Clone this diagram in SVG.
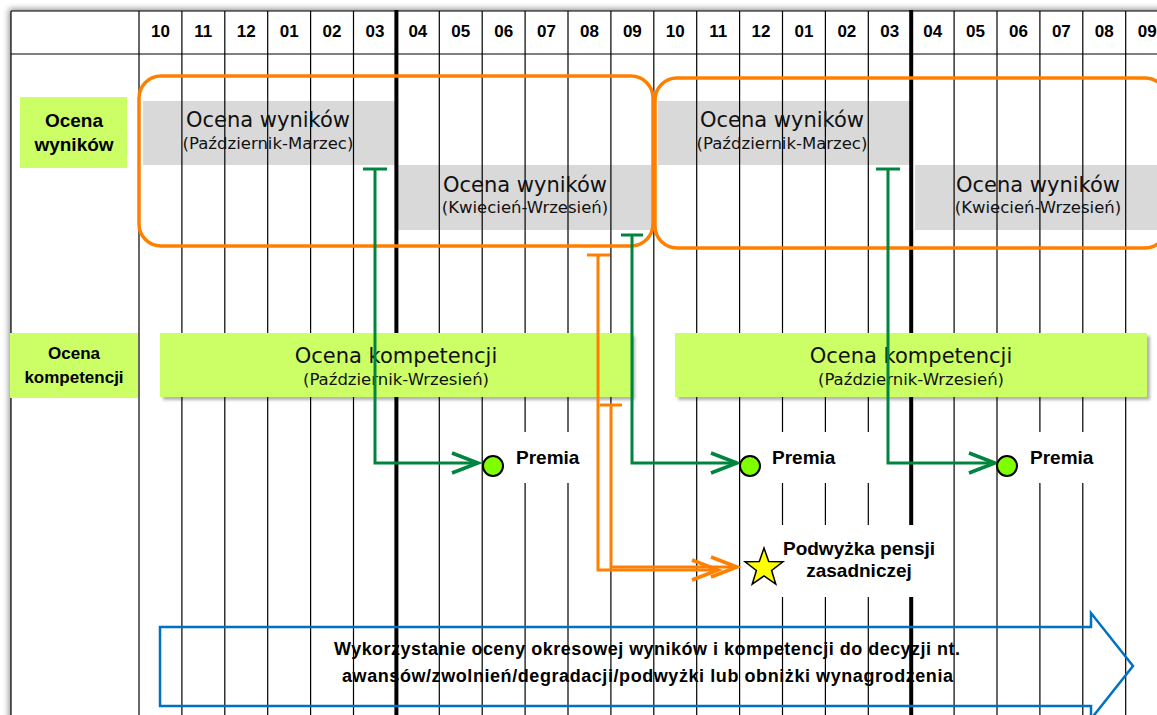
<svg xmlns="http://www.w3.org/2000/svg" width="1157" height="715" viewBox="0 0 1157 715">
<defs>
<style>
.grid{stroke:#000;stroke-width:1.2}
.thick{stroke:#000;stroke-width:4}
.hdr{font:bold 17px "Liberation Sans",Arial,sans-serif;text-anchor:middle;fill:#000}
.bar{fill:#D9D9D9}
.t1{font:21px "DejaVu Sans",Verdana,sans-serif;text-anchor:middle;fill:#111}
.t2{font:16.5px "DejaVu Sans",Verdana,sans-serif;text-anchor:middle;fill:#111}
.gbox{fill:#CCFF66}
.lbl{font:bold 19px "Liberation Sans",Arial,sans-serif;fill:#000}
.lblc{font:bold 19px "Liberation Sans",Arial,sans-serif;fill:#000;text-anchor:middle}
.lbls{font:bold 17px "Liberation Sans",Arial,sans-serif;fill:#000;text-anchor:middle}
.blu{font:bold 18px "Liberation Sans",Arial,sans-serif;fill:#000}
.org{fill:none;stroke:#FF8000;stroke-width:3.5}
.gc{fill:none;stroke:#00853F;stroke-width:3}
.oc{fill:none;stroke:#FF8000;stroke-width:3}
.dot{fill:#80FF00;stroke:#000;stroke-width:2}
.wb{fill:#fff}
</style>
<filter id="tsh" x="-5%" y="-5%" width="110%" height="110%"><feGaussianBlur stdDeviation="3"/></filter>
<filter id="bs" x="-5%" y="-10%" width="115%" height="130%"><feDropShadow dx="3" dy="3" stdDeviation="1.5" flood-color="#000" flood-opacity="0.3"/></filter>
<marker id="ag" markerUnits="userSpaceOnUse" markerWidth="32" markerHeight="26" refX="27" refY="11" orient="auto" overflow="visible"><path d="M1,1 L27,11 L1,21" fill="none" stroke="#00853F" stroke-width="3.5"/></marker>
<marker id="ao" markerUnits="userSpaceOnUse" markerWidth="32" markerHeight="26" refX="27" refY="11" orient="auto" overflow="visible"><path d="M1,1 L27,11 L1,21" fill="none" stroke="#FF8000" stroke-width="3.5"/></marker>
</defs>
<rect width="1157" height="715" fill="#fff"/>
<rect x="9" y="9" width="1200" height="760" fill="#000" opacity="0.45" filter="url(#tsh)"/>
<rect x="11" y="11" width="1200" height="760" fill="#fff"/>

<g id="bars">
<rect class="bar" x="143" y="101" width="252" height="64"/>
<rect class="bar" x="398" y="165" width="254" height="65"/>
<rect class="bar" x="658" y="101" width="252" height="64"/>
<rect class="bar" x="915" y="165" width="246" height="65"/>
</g>

<g id="grid">
<line class="grid" x1="11" y1="11" x2="1157" y2="11"/>
<line class="grid" x1="11" y1="54" x2="1157" y2="54"/>
<line class="grid" x1="11" y1="11" x2="11" y2="715"/>
<line class="grid" x1="139" y1="11" x2="139" y2="715"/>
<line class="grid" x1="181.9" y1="11" x2="181.9" y2="715"/>
<line class="grid" x1="224.8" y1="11" x2="224.8" y2="715"/>
<line class="grid" x1="267.7" y1="11" x2="267.7" y2="715"/>
<line class="grid" x1="310.6" y1="11" x2="310.6" y2="715"/>
<line class="grid" x1="353.5" y1="11" x2="353.5" y2="715"/>
<line class="thick" x1="396.4" y1="10" x2="396.4" y2="715"/>
<line class="grid" x1="439.3" y1="11" x2="439.3" y2="715"/>
<line class="grid" x1="482.2" y1="11" x2="482.2" y2="715"/>
<line class="grid" x1="525.1" y1="11" x2="525.1" y2="715"/>
<line class="grid" x1="568" y1="11" x2="568" y2="715"/>
<line class="grid" x1="610.9" y1="11" x2="610.9" y2="715"/>
<line class="grid" x1="653.8" y1="11" x2="653.8" y2="715"/>
<line class="grid" x1="696.7" y1="11" x2="696.7" y2="715"/>
<line class="grid" x1="739.6" y1="11" x2="739.6" y2="715"/>
<line class="grid" x1="782.5" y1="11" x2="782.5" y2="715"/>
<line class="grid" x1="825.4" y1="11" x2="825.4" y2="715"/>
<line class="grid" x1="868.3" y1="11" x2="868.3" y2="715"/>
<line class="thick" x1="911.2" y1="10" x2="911.2" y2="715"/>
<line class="grid" x1="954.1" y1="11" x2="954.1" y2="715"/>
<line class="grid" x1="997" y1="11" x2="997" y2="715"/>
<line class="grid" x1="1039.9" y1="11" x2="1039.9" y2="715"/>
<line class="grid" x1="1082.8" y1="11" x2="1082.8" y2="715"/>
<line class="grid" x1="1125.7" y1="11" x2="1125.7" y2="715"/>
</g>

<g id="header">
<text class="hdr" x="160.45" y="37">10</text>
<text class="hdr" x="203.35" y="37">11</text>
<text class="hdr" x="246.25" y="37">12</text>
<text class="hdr" x="289.15" y="37">01</text>
<text class="hdr" x="332.05" y="37">02</text>
<text class="hdr" x="374.95" y="37">03</text>
<text class="hdr" x="417.85" y="37">04</text>
<text class="hdr" x="460.75" y="37">05</text>
<text class="hdr" x="503.65" y="37">06</text>
<text class="hdr" x="546.55" y="37">07</text>
<text class="hdr" x="589.45" y="37">08</text>
<text class="hdr" x="632.35" y="37">09</text>
<text class="hdr" x="675.25" y="37">10</text>
<text class="hdr" x="718.15" y="37">11</text>
<text class="hdr" x="761.05" y="37">12</text>
<text class="hdr" x="803.95" y="37">01</text>
<text class="hdr" x="846.85" y="37">02</text>
<text class="hdr" x="889.75" y="37">03</text>
<text class="hdr" x="932.65" y="37">04</text>
<text class="hdr" x="975.55" y="37">05</text>
<text class="hdr" x="1018.45" y="37">06</text>
<text class="hdr" x="1061.35" y="37">07</text>
<text class="hdr" x="1104.25" y="37">08</text>
<text class="hdr" x="1147.15" y="37">09</text>
</g>

<g id="bar-texts">
<text class="t1" x="268" y="127">Ocena wyników</text>
<text class="t2" x="268" y="149">(Październik-Marzec)</text>
<text class="t1" x="525" y="192">Ocena wyników</text>
<text class="t2" x="525" y="213">(Kwiecień-Wrzesień)</text>
<text class="t1" x="782" y="127">Ocena wyników</text>
<text class="t2" x="782" y="149">(Październik-Marzec)</text>
<text class="t1" x="1038" y="192">Ocena wyników</text>
<text class="t2" x="1038" y="213">(Kwiecień-Wrzesień)</text>
</g>

<g id="period-frames">
<rect class="org" x="139" y="76" width="514" height="170" rx="22"/>
<rect class="org" x="655" y="78" width="512" height="170" rx="22"/>
</g>

<g id="label-ocena-wynikow">
<rect class="gbox" x="20" y="97" width="107" height="71"/>
<text class="lblc" x="74" y="127">Ocena</text>
<text class="lblc" x="74" y="151">wyników</text>
</g>
<g id="label-ocena-kompetencji">
<rect class="gbox" x="10" y="333" width="128" height="65"/>
<text class="lbls" x="74" y="359">Ocena</text>
<text class="lbls" x="74" y="383">kompetencji</text>
</g>
<g id="kompetencje-1">
<rect class="gbox" x="160" y="333" width="472" height="64" filter="url(#bs)"/>
<text class="t1" x="396" y="363">Ocena kompetencji</text>
<text class="t2" x="396" y="385">(Październik-Wrzesień)</text>
</g>
<g id="kompetencje-2">
<rect class="gbox" x="675" y="333" width="472" height="64" filter="url(#bs)"/>
<text class="t1" x="911" y="363">Ocena kompetencji</text>
<text class="t2" x="911" y="385">(Październik-Wrzesień)</text>
</g>

<g id="label-backs">
<rect class="wb" x="505" y="432" width="90" height="51"/>
<rect class="wb" x="765" y="432" width="115" height="51"/>
<rect class="wb" x="1020" y="432" width="90" height="51"/>
<rect class="wb" x="775" y="525" width="150" height="72"/>
</g>

<g id="blue-arrow">
<polygon points="160,627 1091,627 1091,613 1133,666 1091,719 1091,706 160,706" fill="none" stroke="#0070C0" stroke-width="2.5"/>
<text class="blu" x="334" y="655" textLength="626" lengthAdjust="spacing">Wykorzystanie oceny okresowej wyników i kompetencji do decyzji nt.</text>
<text class="blu" x="342" y="682" textLength="611" lengthAdjust="spacing">awansów/zwolnień/degradacji/podwyżki lub obniżki wynagrodzenia</text>
</g>

<g id="connectors">
<path class="gc" d="M375,169 V463 H478" marker-end="url(#ag)"/>
<path class="gc" d="M363,169 H387"/>
<path class="gc" d="M632,235 V463 H737" marker-end="url(#ag)"/>
<path class="gc" d="M621,235 H643"/>
<path class="gc" d="M888,169 V463 H995" marker-end="url(#ag)"/>
<path class="gc" d="M876,169 H900"/>
<path class="oc" d="M598,255 V570 H718" marker-end="url(#ao)"/>
<path class="oc" d="M587,255 H610"/>
<path class="oc" d="M611,405 V567 H737" marker-end="url(#ao)"/>
<path class="oc" d="M600,405 H622"/>
</g>

<g id="premia-1">
<circle class="dot" cx="493" cy="466" r="10"/>
<text class="lbl" x="516" y="464">Premia</text>
</g>
<g id="premia-2">
<circle class="dot" cx="750" cy="466" r="10"/>
<text class="lbl" x="772" y="464">Premia</text>
</g>
<g id="premia-3">
<circle class="dot" cx="1007" cy="466" r="10"/>
<text class="lbl" x="1030" y="464">Premia</text>
</g>
<g id="podwyzka">
<polygon points="764,548 768.7,561.5 783,561.8 771.6,570.5 775.8,584.2 764,576 752.2,584.2 756.4,570.5 745,561.8 759.3,561.5" fill="#FFFF00" stroke="#000" stroke-width="1.5"/>
<text class="lblc" x="859" y="555">Podwyżka pensji</text>
<text class="lblc" x="859" y="577">zasadniczej</text>
</g>
</svg>
